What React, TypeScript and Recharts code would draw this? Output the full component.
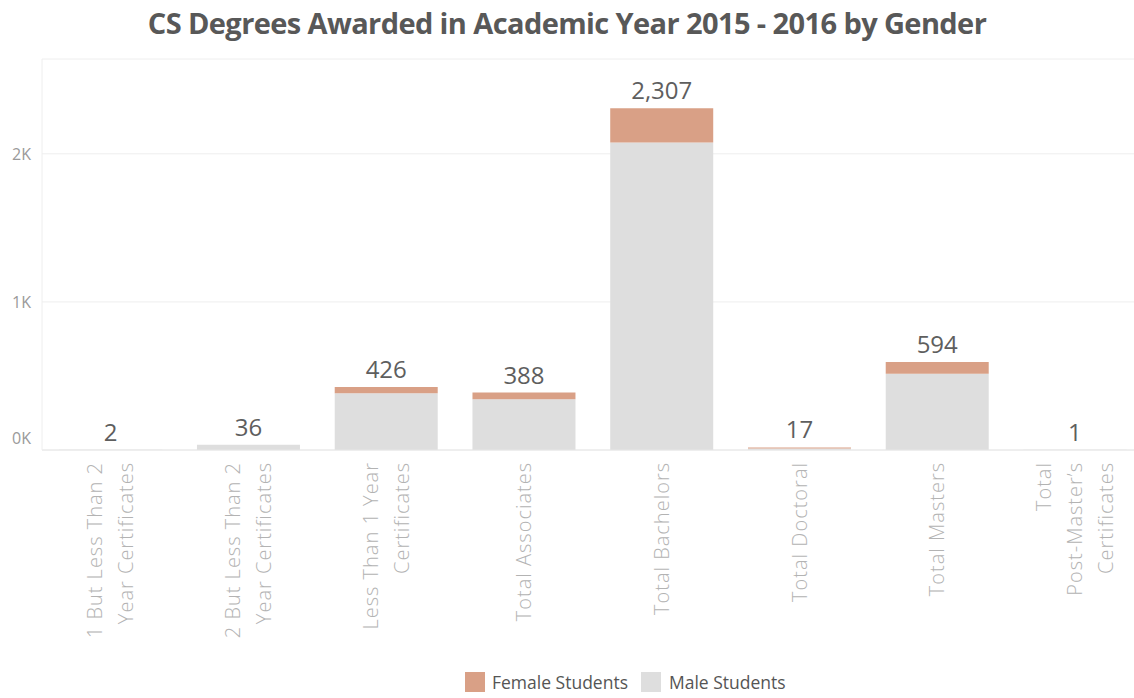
import React from "react";
import { BarChart, Bar, XAxis, YAxis, CartesianGrid, Legend, LabelList } from "recharts";

const categories = [
  "1 But Less Than 2 Year Certificates",
  "2 But Less Than 2 Year Certificates",
  "Less Than 1 Year Certificates",
  "Total Associates",
  "Total Bachelors",
  "Total Doctoral",
  "Total Masters",
  "Total Post-Master's Certificates",
];
const categoryLines = [
  ["1 But Less Than 2", "Year Certificates"],
  ["2 But Less Than 2", "Year Certificates"],
  ["Less Than 1 Year", "Certificates"],
  ["Total Associates"],
  ["Total Bachelors"],
  ["Total Doctoral"],
  ["Total Masters"],
  ["Total", "Post-Master\u2019s", "Certificates"],
];
const maleStudents = [2, 36, 383, 343, 2076, 10, 515, 1];
const femaleStudents = [0, 0, 43, 45, 231, 7, 79, 0];
const totals = [2, 36, 426, 388, 2307, 17, 594, 1];
const yTicks = [0, 1000, 2000];

const FEMALE = "#D9A086";
const MALE = "#DEDEDE";

const data = categories.map((c, i) => ({
  name: c,
  male: maleStudents[i],
  female: femaleStudents[i],
  total: totals[i],
}));

const XTick = (props: any) => {
  const { x, y, payload, index } = props;
  const lines: string[] = categoryLines[index] || [payload.value];
  const n = lines.length;
  return (
    <g transform={`translate(${x},${y})`}>
      <text
        transform="rotate(-90)"
        textAnchor="end"
        fill="#b3b3b3"
        fontSize={20}
        letterSpacing={1.0}
        fontFamily="'Open Sans', sans-serif"
        fontWeight={300}
      >
        {lines.map((l, i) => (
          <tspan key={i} x={-4} y={(i - (n - 1) / 2) * 31 + 7}>
            {l}
          </tspan>
        ))}
      </text>
    </g>
  );
};

const YTick = (props: any) => {
  const { y, payload } = props;
  const shift = payload.value === 0 ? -12 : 0;
  return (
    <text
      x={31}
      y={y + shift + 6}
      textAnchor="end"
      fill="#9a9a9a"
      fontSize={16}
      fontFamily="'Open Sans', sans-serif"
    >
      {`${payload.value / 1000}K`}
    </text>
  );
};

// Label drawn from the male (bottom) bar; the female segment's pixel height is
// derived from the male bar's own pixel-per-unit ratio given by the library scale.
const TotalLabel = (props: any) => {
  const { x, y, width, height, index } = props;
  const m = maleStudents[index];
  const pxPerUnit = m > 0 ? Math.abs(height) / m : 0;
  const top = y - femaleStudents[index] * pxPerUnit;
  return (
    <text
      x={x + width / 2}
      y={top - 9}
      textAnchor="middle"
      fill="#5e5e5e"
      fontSize={24}
      fontFamily="'Open Sans', sans-serif"
    >
      {totals[index].toLocaleString("en-US")}
    </text>
  );
};

const LegendContent = () => (
  <div
    style={{
      display: "flex",
      justifyContent: "flex-start",
      alignItems: "center",
      paddingLeft: 465,
      paddingTop: 13,
      fontFamily: "'Open Sans', sans-serif",
      fontSize: 17.5,
      lineHeight: "22px",
      color: "#555",
    }}
  >
    <span style={{ display: "inline-block", width: 20, height: 20, background: FEMALE, marginRight: 7 }} />
    <span style={{ marginRight: 13 }}>Female Students</span>
    <span style={{ display: "inline-block", width: 20, height: 20, background: MALE, marginRight: 8 }} />
    <span>Male Students</span>
  </div>
);

export default function App() {
  return (
    <div
      style={{
        position: "absolute",
        left: 0,
        top: 0,
        width: 1134,
        height: 698,
        overflow: "hidden",
        background: "#fff",
      }}
    >
      <div
        style={{
          position: "absolute",
          left: 0,
          top: 3,
          width: 1134,
          textAlign: "center",
          fontFamily: "'Open Sans', sans-serif",
          fontWeight: 700,
          fontSize: 29,
          letterSpacing: -0.6,
          color: "#585858",
          zIndex: 2,
        }}
      >
        CS Degrees Awarded in Academic Year 2015 - 2016 by Gender
      </div>
      <BarChart
        width={1150}
        height={698}
        data={data}
        margin={{ top: 59, right: 6, left: 0, bottom: 0 }}
        barCategoryGap="12.5%"
      >
        <CartesianGrid vertical={false} stroke="#eeeeee" />
        <XAxis
          dataKey="name"
          height={208}
          interval={0}
          tick={<XTick />}
          tickLine={false}
          axisLine={{ stroke: "#e6e6e6" }}
        />
        <YAxis
          width={42}
          domain={[0, 2640]}
          ticks={yTicks}
          tick={<YTick />}
          tickLine={false}
          axisLine={{ stroke: "#eeeeee" }}
          allowDataOverflow
        />
        <Legend verticalAlign="bottom" height={40} content={<LegendContent />} />
        <Bar dataKey="male" name="Male Students" stackId="a" fill={MALE} isAnimationActive={false}>
          <LabelList dataKey="total" content={<TotalLabel />} />
        </Bar>
        <Bar dataKey="female" name="Female Students" stackId="a" fill={FEMALE} isAnimationActive={false} />
      </BarChart>
    </div>
  );
}
